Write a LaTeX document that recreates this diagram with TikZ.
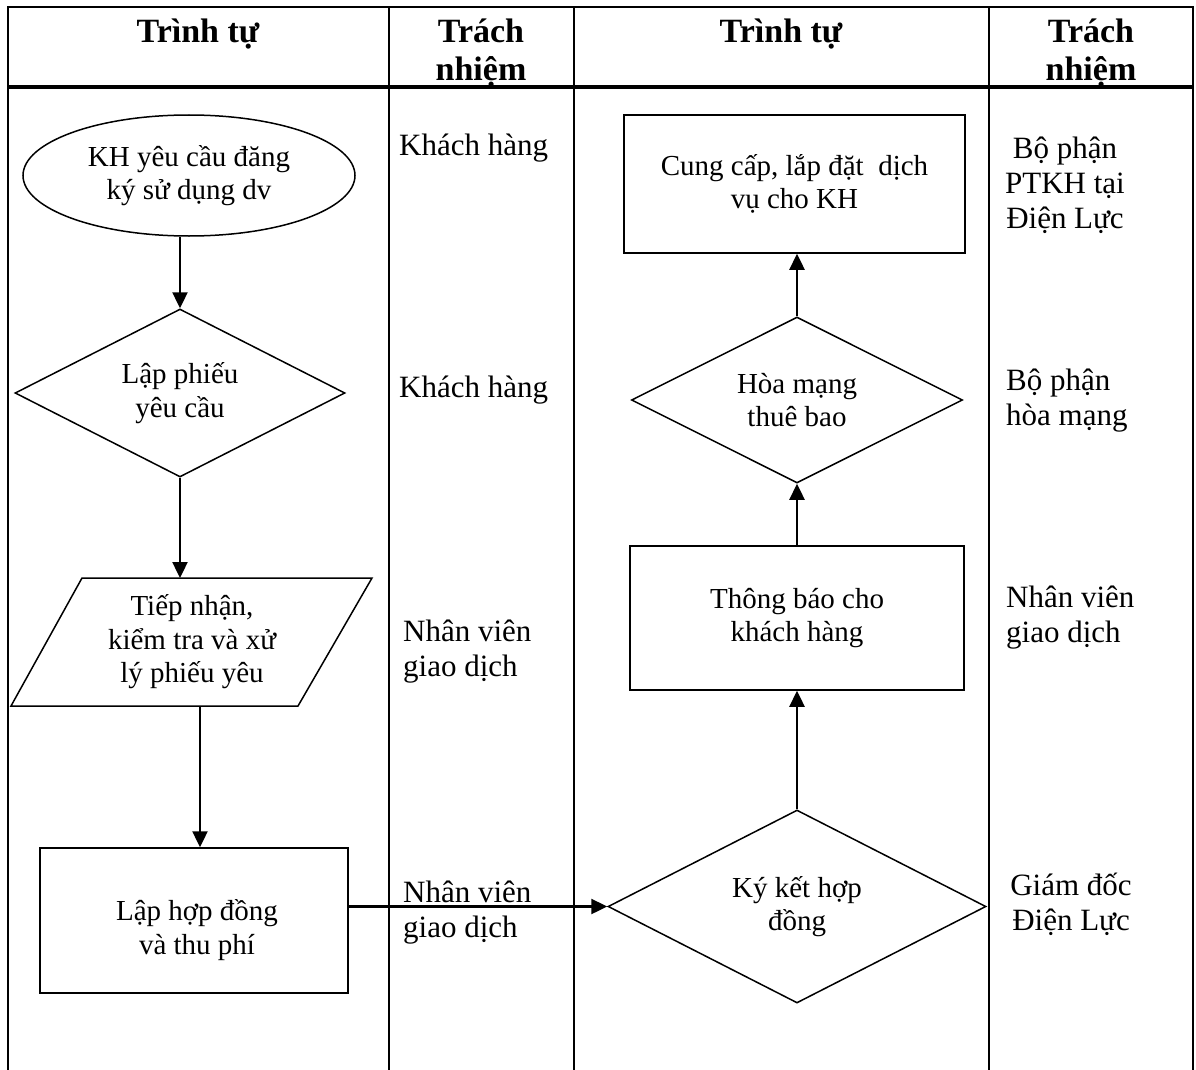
\documentclass[tikz,border=0pt]{standalone}
\usepackage{fontspec}
\setmainfont{Liberation Serif}
\usetikzlibrary{shapes.geometric,arrows.meta}
\begin{document}
\begin{tikzpicture}[x=1pt,y=-1pt,
  grid/.style={line width=2.8pt},
  outline/.style={draw,line width=1.5pt},
  shp/.style={outline,inner sep=0pt,font=\fontsize{29}{33.5}\selectfont,align=center},
  dia/.style={shp,diamond,shape aspect=2},
  arr/.style={line width=2.4pt,-{Triangle[length=16pt,width=15pt]}},
  head/.style={font=\fontsize{34}{38}\selectfont\bfseries,align=center,inner sep=0pt},
  resp/.style={font=\fontsize{31}{35}\selectfont,inner sep=0pt},
  inner/.style={font=\fontsize{29}{33.5}\selectfont,align=center,inner sep=0pt},
]
\useasboundingbox (0,0) rectangle (1196,1070);

% table frame (open at the bottom: the table runs on) and column rules
\draw[grid] (8,1071) -- (8,7) -- (1193,7) -- (1193,1071);
\draw[line width=3.5pt] (8,87) -- (1193,87);
\foreach \x in {389,574,989} \draw[grid] (\x,7) -- (\x,1071);

% column headings
\node[head,anchor=base] (h1) at (198,43) {Trình tự};
\node[head,anchor=base] (h2) at (481,81) {Trách\\nhiệm};
\node[head,anchor=base] (h3) at (781,43) {Trình tự};
\node[head,anchor=base] (h4) at (1091,81) {Trách\\nhiệm};

% left flow
\node[shp,ellipse,minimum width=332pt,minimum height=121pt] (kh) at (189,175.5)
  {KH yêu cầu đăng\\ký sử dụng dv};
\node[dia,minimum width=330pt,minimum height=168pt] (lp) at (180,393)
  {Lập phiếu\\yêu cầu};
\coordinate (p1) at (82,578);
\coordinate (p2) at (372,578);
\coordinate (p3) at (298,706);
\coordinate (p4) at (11,706);
\draw[outline] (p1) -- (p2) -- (p3) -- (p4) -- cycle;
\node[inner] (tn) at (192,642) {Tiếp nhận,\\kiểm tra và xử\\lý phiếu yêu};
\coordinate (pout) at (200,706);
\node[shp,rectangle,minimum width=308pt,minimum height=145pt] (lhd) at (194,920.5) {};
\node[inner] (lhdT) at (197,930) {Lập hợp đồng\\và thu phí};

% right flow
\node[dia,minimum width=378pt,minimum height=193pt] (kk) at (797,906.5)
  {Ký kết hợp\\đồng};
\node[shp,rectangle,minimum width=334pt,minimum height=144pt] (tb) at (797,618)
  {Thông báo cho\\khách hàng};
\node[dia,minimum width=331pt,minimum height=166pt] (hm) at (797,400)
  {Hòa mạng\\thuê bao};
\node[shp,rectangle,minimum width=341pt,minimum height=138pt] (cc) at (794.5,184)
  {Cung cấp, lắp đặt \ dịch\\vụ cho KH};

% connectors
\draw[arr] (kh.south -| lp.north) -- (lp.north);
\draw[arr] (lp.south) -- (lp.south |- p1);
\draw[arr] (pout) -- (pout |- lhd.north);
\draw[arr] (lhd.east |- kk.west) -- (kk.west);
\draw[arr] (kk.north) -- (tb.south);
\draw[arr] (tb.north) -- (hm.south);
\draw[arr] (hm.north) -- (hm.north |- cc.south);

% responsibilities
\node[resp,anchor=base west] (r1) at (399,155) {Khách hàng};
\node[resp,anchor=base west] (r2) at (399,397) {Khách hàng};
\node[resp,anchor=base west,align=left] (r3) at (403,676) {Nhân viên\\giao dịch};
\node[resp,anchor=base west,align=left] (r4) at (403,937) {Nhân viên\\giao dịch};
\node[resp,anchor=base,align=center] (r5) at (1065,228) {Bộ phận\\PTKH tại\\Điện Lực};
\node[resp,anchor=base west,align=left] (r6) at (1006,425) {Bộ phận\\hòa mạng};
\node[resp,anchor=base west,align=left] (r7) at (1006,642) {Nhân viên\\giao dịch};
\node[resp,anchor=base,align=center] (r8) at (1071,930) {Giám đốc\\Điện Lực};
\end{tikzpicture}
\end{document}
